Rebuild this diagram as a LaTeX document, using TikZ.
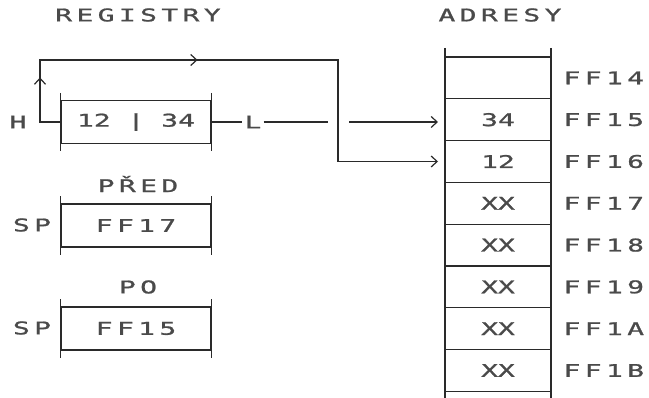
\documentclass[tikz,border=0pt]{standalone}
\usepackage{fontspec}
\usepackage{tikz}
\usetikzlibrary{arrows.meta,positioning,decorations.markings}
\newfontfamily\dotfont[FakeStretch=1.6,LetterSpace=25,FakeBold=1.2]{DejaVu Sans Mono}
\newfontfamily\valfont[FakeStretch=1.6,FakeBold=1.2]{DejaVu Sans Mono}
\definecolor{ink}{HTML}{2a2a2a}

\begin{document}
\begin{tikzpicture}[x=1pt, y=-1pt,
    every node/.style={font=\dotfont\fontsize{17.5}{18}\selectfont, text=ink!85},
    val/.style={font=\valfont\fontsize{17.5}{18}\selectfont},
    reg/.style={rectangle, draw=ink, line width=1.2pt, minimum width=150pt,
                minimum height=43pt, inner sep=0pt},
    cell/.style={rectangle, draw=ink, line width=1.2pt, minimum width=106pt,
                 minimum height=41.8pt, inner sep=0pt, outer sep=0pt, val},
    lab/.style={inner sep=2pt},
    wire/.style={draw=ink, line width=1.2pt},
    barb/.tip={Straight Barb[length=6pt,width=11pt]},
    arrow/.style={wire, -barb, shorten >=7pt},
]
\useasboundingbox (0,0) rectangle (649,398);

\node (registry) at (138,15) {REGISTRY};
\node (adresy) at (500,15) {ADRESY};

\node[reg, val] (hl) at (136,122) {12 | 34};
\node[lab] (hlab) at (18,122) {H};
\node[lab] (llab) at (253,122) {L};

\node (pred) at (138,184) {PŘED};
\node[reg] (sp1) at (136,225.5) {FF17};
\node (sp1lab) at (32,225) {SP};

\node (po) at (138,287) {PO};
\node[reg] (sp2) at (136,328.5) {FF15};
\node (sp2lab) at (32,328) {SP};

\node[cell] (m1) at (498,77.9) {};
\foreach \v [count=\i from 2, remember=\i as \j (initially 1)] in {34,12,XX,XX,XX,XX,XX}
  \node[cell, below=0pt of m\j] (m\i) {\v};
\foreach \a [count=\i] in {14,15,16,17,18,19,1A,1B}
  \node[right=9pt of m\i] (a\i) {FF\a};

\foreach \n in {hl,sp1,sp2} {
  \draw[wire] ([yshift=7pt]\n.north west) -- ([yshift=-7pt]\n.south west);
  \draw[wire] ([yshift=7pt]\n.north east) -- ([yshift=-7pt]\n.south east);
}
\draw[wire] ([yshift=9pt]m1.north west) -- ([yshift=-7pt]m8.south west);
\draw[wire] ([yshift=9pt]m1.north east) -- ([yshift=-7pt]m8.south east);

\coordinate (hc) at (40,122);
\coordinate (tl) at (40,60);
\coordinate (tr) at (338,60);
\draw[arrow, decoration={markings,
        mark=at position 65pt with {\arrow{barb}},
        mark=at position 240pt with {\arrow{barb}}},
      postaction={decorate}]
  (hl.west) -- (hc) -- (tl) -- (tr) |- (m3.west);

\coordinate (gapl) at (328,122);
\coordinate (gapr) at (349,122);
\draw[wire] (hl.east) -- (llab.west);
\draw[wire] (llab.east) -- (gapl);
\draw[arrow] (gapr) -- (gapr -| m2.west);

\end{tikzpicture}
\end{document}
